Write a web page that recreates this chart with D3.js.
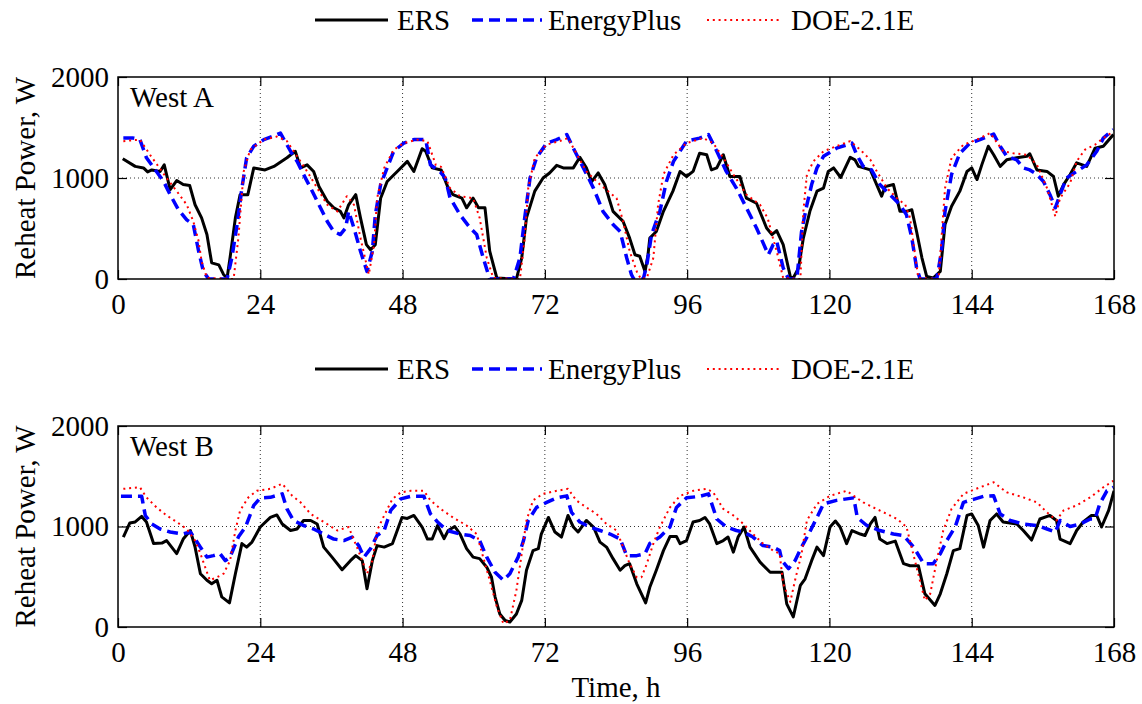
<!DOCTYPE html>
<html>
<head>
<meta charset="utf-8">
<script src="https://cdn.jsdelivr.net/npm/d3@7"></script>
<style>
html,body{margin:0;padding:0;background:#fff;}
svg{display:block;}
</style>
</head>
<body>
<svg id="chart" width="1142" height="704"></svg>
<script>
// ---------- data ----------
const seriesNames = ["ERS", "EnergyPlus", "DOE-2.1E"];
const panelNames = ["West A", "West B"];
const xTicks = [0, 24, 48, 72, 96, 120, 144, 168];
const yTicks = [0, 1000, 2000];

// [hour, reheat power W]
const westA_ERS = [[0.8,1190],[2.9,1115],[4.3,1100],[5,1060],[5.7,1080],[7.1,1065],[7.8,1130],[8.8,885],[9.9,975],[11,935],[12.1,925],[13,735],[14.1,605],[15,440],[15.8,160],[17,140],[17.8,45],[18.4,10],[18.9,210],[19.8,605],[20.6,835],[21.9,835],[22.9,1100],[24.8,1080],[26.3,1115],[28.5,1200],[29.9,1265],[30.8,1100],[31.9,1130],[33,1065],[33.9,915],[35.3,770],[36.4,705],[37.5,670],[38.1,605],[38.9,735],[40.1,835],[40.9,605],[41.9,340],[42.6,290],[43.4,340],[44.3,800],[45.4,965],[47.1,1065],[48.8,1165],[49.9,1065],[51.3,1290],[51.9,1265],[53,1100],[54.5,1080],[55.6,915],[56.5,835],[58,800],[58.8,705],[59.9,800],[60.8,705],[61.9,705],[62.7,275],[63.9,10],[67.2,0],[68.1,210],[68.9,605],[70.3,870],[71.7,1000],[72.8,1050],[74,1125],[75.1,1100],[76.8,1100],[77.9,1205],[79,1100],[79.9,965],[81,1050],[82.1,935],[83.5,670],[85.2,570],[86.3,405],[87.2,240],[88,225],[88.9,75],[89.4,240],[89.7,405],[90.8,470],[92,670],[93.6,870],[94.8,1065],[95.9,1015],[97,1065],[98.1,1245],[99.3,1230],[100.1,1080],[101,1100],[102.1,1230],[103.2,1015],[104.9,1015],[106,800],[107.7,750],[109.4,505],[110.3,440],[111.1,480],[112.2,340],[113.4,25],[113.9,10],[114.8,110],[115.6,405],[116.7,670],[117.9,870],[119,900],[119.8,1065],[120.7,1100],[121.9,1005],[123.5,1205],[124.3,1180],[124.9,1115],[126.9,1080],[128.8,820],[129.4,915],[130.8,935],[131.9,670],[133,670],[133.9,685],[134.7,470],[135.6,210],[136.4,25],[137.5,10],[138.7,75],[139.5,540],[140.6,720],[142,870],[143.2,1065],[144,1100],[144.9,985],[145.7,1130],[146.8,1315],[147.7,1230],[148.8,1115],[149.9,1180],[151.6,1200],[153.3,1215],[153.8,1240],[155,1080],[156.7,1065],[157.8,1015],[158.6,820],[159.5,935],[160.6,1035],[161.7,1150],[163.4,1115],[164.8,1295],[166.2,1315],[167.9,1430]];
const westA_EnergyPlus = [[0.9,1395],[2.6,1395],[3.7,1380],[4.8,1200],[6.3,1080],[7.7,965],[8.8,835],[10.2,685],[11.6,585],[12.7,540],[13.6,275],[14.4,75],[15.3,0],[18.4,0],[19.2,210],[20.1,540],[20.9,900],[21.7,1200],[22.9,1315],[24.6,1380],[26.8,1430],[27.4,1445],[29.1,1265],[30.2,1165],[31.3,1035],[32.5,900],[33.9,735],[35.3,570],[36.4,470],[37.5,440],[38.4,505],[38.9,670],[39.8,505],[40.9,275],[42,75],[42.9,275],[43.4,635],[44.3,935],[45.4,1100],[46.5,1265],[48.2,1345],[49.9,1380],[51.9,1380],[52.7,1130],[54.3,1065],[55.2,1000],[56,805],[57.7,635],[59.4,505],[60.5,440],[61.6,210],[62.7,0],[66.7,0],[67.8,210],[68.6,605],[69.5,1000],[70.6,1200],[72.3,1345],[74,1380],[75.7,1430],[76.8,1295],[78.5,1100],[80.2,900],[81.8,670],[83.5,540],[84.7,470],[85.8,210],[86.6,45],[87,0],[88.6,0],[89.2,140],[90,440],[91.4,670],[92.5,965],[93.7,1165],[95.9,1365],[98.1,1395],[99.6,1430],[101,1265],[102.6,1065],[104.3,900],[106,705],[107.7,505],[109.7,240],[110.5,340],[111.1,375],[112.2,110],[113.1,0],[114.5,0],[115.3,470],[116.2,735],[117,935],[117.9,1100],[119,1215],[121.2,1295],[123.8,1345],[124.6,1230],[125.7,1115],[127.1,1080],[128.5,935],[130.2,835],[131.9,735],[133,635],[133.9,405],[134.7,110],[135.3,0],[138.1,0],[138.9,275],[139.5,670],[140.6,1035],[142,1245],[143.7,1345],[145.4,1380],[147.7,1435],[148.8,1315],[149.9,1215],[151.6,1180],[152.7,1100],[153.8,1080],[155,1035],[156.1,965],[157.2,835],[158.1,705],[158.9,835],[160,1000],[161.7,1065],[163.4,1130],[165.1,1265],[166.2,1395],[167.9,1480]];
const westA_DOE = [[0.9,1365],[3.7,1380],[5.4,1230],[6.8,1115],[8.2,1000],[9.9,870],[11.6,735],[12.7,570],[13.6,375],[14.1,175],[15,10],[19.5,0],[20.3,405],[21.2,1065],[22.3,1280],[24.6,1380],[26.8,1410],[28.5,1365],[30.2,1215],[31.9,1065],[33.6,900],[35.3,735],[37,670],[38.6,820],[39.8,735],[40.9,405],[42.3,45],[43.2,340],[43.7,800],[44.9,1100],[46.5,1280],[48.2,1345],[50.5,1380],[52.2,1365],[53.6,1130],[54.5,1110],[56,900],[57.7,820],[59.9,800],[61,605],[62.2,210],[63.3,10],[67.8,0],[68.6,405],[69.2,900],[70.3,1200],[72.3,1330],[74.5,1365],[75.9,1395],[77.3,1245],[79,1065],[81.3,935],[84.1,800],[85.2,570],[86.3,275],[87.5,75],[88.2,0],[89.2,10],[90.3,210],[91.1,735],[92,1035],[93.7,1230],[95.9,1345],[98.7,1395],[100.4,1345],[102.1,1200],[103.8,1035],[106,835],[108.3,735],[109.6,600],[110.4,420],[111.1,275],[112.2,10],[115.1,0],[115.6,670],[116.2,1035],[117.3,1165],[119,1265],[121.2,1315],[123.5,1365],[125.2,1280],[126.9,1180],[128,1065],[129.7,900],[131.4,800],[132.8,735],[133.6,605],[134.5,210],[135,10],[138.4,0],[138.9,405],[139.5,900],[140.6,1200],[142.6,1330],[144.9,1380],[147.1,1445],[149.3,1265],[151,1245],[153.3,1230],[155,1130],[156.7,900],[158.1,620],[158.9,800],[160.6,950],[161.7,1165],[163.1,1280],[164.8,1330],[166.2,1395],[167.9,1460]];

const westB_ERS = [[0.9,895],[2,1035],[2.9,1045],[4,1100],[4.8,1045],[6,830],[7.4,835],[8.2,860],[9.9,730],[11,875],[12.2,960],[13,795],[13.9,530],[15,465],[15.8,430],[16.7,465],[17.5,300],[18.8,240],[19.8,530],[20.9,830],[21.7,795],[22.6,845],[24,995],[25.7,1090],[26.8,1115],[27.7,1025],[29.1,960],[30.2,975],[31.3,1060],[32.5,1060],[33.6,1025],[34.7,795],[36.1,695],[37.8,570],[39.2,660],[40.1,710],[41.2,660],[42,380],[42.9,660],[43.7,810],[44.9,795],[46.3,830],[47.1,960],[47.9,1090],[48.8,1080],[49.9,1110],[51.3,995],[52.2,875],[53,875],[53.9,1010],[55,880],[55.7,960],[56.8,1000],[57.7,925],[58.8,780],[59.9,695],[61,680],[62.2,595],[63,495],[63.6,300],[64.4,130],[65.3,65],[66.1,50],[67.2,130],[68.1,265],[68.9,565],[70,760],[70.9,780],[71.4,925],[72.6,1090],[73.7,945],[74.8,895],[75.9,1110],[76.8,995],[77.6,945],[79,1060],[80.2,995],[81.3,845],[82.4,795],[83.5,680],[84.7,565],[85.5,610],[86.3,630],[87.5,430],[89,240],[89.7,395],[90.8,565],[92,760],[93.1,900],[94.2,900],[94.8,830],[95.9,860],[97,1045],[98.1,1060],[99,1090],[99.8,1025],[101,830],[102.1,860],[102.9,895],[103.8,745],[104.6,895],[105.6,995],[106.6,795],[108.3,645],[110,545],[112,545],[112.8,230],[113.9,100],[115.1,415],[115.9,480],[117,660],[117.9,795],[119,710],[120.1,995],[121,1055],[121.8,995],[122.9,830],[123.8,960],[125.2,925],[126,910],[126.9,1025],[127.7,1090],[128.5,875],[129.7,830],[131.1,855],[132.5,630],[133.6,610],[135,610],[136.1,330],[137.8,215],[138.7,330],[139.8,530],[140.9,760],[142,780],[143.2,1110],[144,1125],[145.1,1010],[146,795],[147.1,1060],[148.2,1125],[149.3,1045],[151.6,1025],[152.7,960],[154.1,865],[155.5,1075],[157.2,1110],[158.3,1060],[158.9,875],[160.6,830],[161.7,960],[162.8,1045],[164.2,1110],[165.1,1110],[165.9,995],[167.1,1160],[168,1355]];
const westB_EnergyPlus = [[0.5,1300],[4,1300],[4.6,1110],[5.7,1025],[7.1,975],[8.8,945],[10.8,925],[12.2,945],[13,875],[13.9,795],[15,695],[16.1,710],[17.2,730],[18.1,660],[18.9,695],[20.3,895],[21.5,995],[22.9,1210],[24,1285],[25.7,1290],[27.7,1325],[28.5,1175],[29.6,1060],[31.3,1010],[33,975],[34.7,925],[36.4,875],[38.1,860],[39.5,895],[40.6,810],[41.5,695],[42.6,780],[43.7,910],[44.9,960],[46,1160],[47.7,1275],[49.4,1300],[51.6,1300],[52.7,1125],[53.9,1045],[55.5,960],[57.7,925],[59.4,910],[61,860],[62.2,695],[63.6,545],[65,465],[66.1,530],[67.5,695],[68.4,860],[69.2,1060],[70.6,1190],[72.3,1240],[74,1285],[75.7,1305],[76.5,1140],[77.9,1045],[79.6,995],[81.3,960],[83,925],[84.7,875],[85.8,710],[87.5,710],[88.9,730],[89.7,830],[91.4,895],[93.1,995],[94.2,1190],[95.9,1285],[98.1,1300],[99.6,1325],[101,1075],[102.6,995],[104.3,960],[105.5,945],[107.1,895],[108.8,810],[110.5,795],[111.6,760],[112,660],[113.1,580],[114.2,660],[115.3,795],[116.5,925],[117.9,1090],[119,1225],[121.2,1260],[124.1,1285],[124.7,1090],[126.3,1010],[128.5,960],[130.8,925],[132.5,910],[134.2,795],[135.9,630],[137.5,630],[138.7,730],[139.8,860],[141.2,995],[142.6,1240],[144.3,1270],[146,1300],[147.7,1305],[148.8,1125],[150.5,1060],[152.7,1025],[155,1010],[156.7,975],[158.1,945],[158.9,1060],[160.6,1000],[162.3,1025],[164,1075],[164.8,1075],[165.6,1225],[166.8,1355],[167.9,1390]];
const westB_DOE = [[0.9,1375],[3.7,1390],[4.8,1290],[6.5,1190],[8.2,1110],[9.9,1045],[11.6,975],[13,860],[13.9,730],[14.7,595],[15.5,465],[16.7,495],[17.8,530],[18.9,660],[19.8,960],[20.6,1160],[22,1290],[23.4,1355],[25.7,1375],[27.7,1425],[29.4,1305],[30.8,1240],[32.5,1125],[34.7,1045],[37,960],[38.9,995],[40.3,795],[41.2,660],[42,530],[42.9,660],[43.7,960],[44.9,1110],[46.3,1275],[47.7,1340],[49.4,1355],[51.6,1355],[52.7,1260],[54.4,1175],[56.5,1090],[58.8,1010],[60.5,925],[61.6,695],[62.7,465],[63.9,200],[65,35],[66.1,65],[67.2,365],[68.1,730],[68.9,1060],[70,1260],[71.7,1325],[74,1355],[75.9,1375],[77.3,1260],[79,1190],[80.7,1125],[82.4,1025],[84.1,960],[85.2,795],[86.3,630],[87.5,495],[88.3,495],[89.2,630],[90.3,830],[91.4,995],[93.1,1190],[94.8,1305],[97,1355],[99.3,1375],[100.4,1340],[102.1,1175],[103.8,1110],[105.5,1025],[107.1,925],[108.8,830],[110.5,760],[111.6,730],[112.2,430],[113.4,250],[114.2,465],[115.3,730],[116.2,1060],[117.9,1225],[120.1,1305],[122.9,1355],[124.1,1305],[125.7,1240],[127.4,1190],[129.7,1125],[131.4,1075],[133,995],[134.7,595],[136.1,265],[137,330],[138.1,660],[139.2,960],[140.6,1175],[142.6,1325],[145.4,1390],[147.7,1440],[149.9,1340],[152.7,1290],[155,1240],[156.7,1140],[158.3,1060],[159.5,1160],[161.7,1210],[164,1290],[166.2,1390],[167.9,1455]];

// ---------- layout ----------
const FONT = '"Liberation Serif"';
const svg = d3.select("#chart");
svg.append("rect").attr("width",1142).attr("height",704).attr("fill","#fff");
const FS = 29;
const L = 118, R = 1114;
const panels = [
  {name: panelNames[0], top: 77, bottom: 279, data: [westA_ERS, westA_EnergyPlus, westA_DOE]},
  {name: panelNames[1], top: 426, bottom: 627, data: [westB_ERS, westB_EnergyPlus, westB_DOE]}
];
const styles = [
  {stroke:"#000000", width:3, dash:null},
  {stroke:"#0000ff", width:3.5, dash:"11,6"},
  {stroke:"#ff0000", width:2, dash:"2,3.8"}
];
const legendPos = [
  {x1:315, x2:388, tx:397},
  {x1:472, x2:542, tx:548},
  {x1:707, x2:782, tx:791}
];

const x = d3.scaleLinear().domain([0,168]).range([L,R]);
const fmt = d3.format("d");

panels.forEach((p, pi) => {
  const y = d3.scaleLinear().domain([0,2000]).range([p.bottom,p.top]);
  const g = svg.append("g");

  // grid
  g.append("g").selectAll("line").data(xTicks.slice(1,-1)).join("line")
    .attr("x1",d=>x(d)).attr("x2",d=>x(d)).attr("y1",p.top).attr("y2",p.bottom)
    .attr("stroke","#333").attr("stroke-width",1).attr("stroke-dasharray","1,3");
  g.append("g").selectAll("line").data(yTicks.slice(1,-1)).join("line")
    .attr("x1",L).attr("x2",R).attr("y1",d=>y(d)).attr("y2",d=>y(d))
    .attr("stroke","#333").attr("stroke-width",1).attr("stroke-dasharray","1,3");

  // clip
  const cid = "clip"+pi;
  svg.append("clipPath").attr("id",cid).append("rect")
    .attr("x",L).attr("y",p.top-2).attr("width",R-L).attr("height",p.bottom-p.top+2);

  const line = d3.line().x(d=>x(d[0])).y(d=>y(d[1]));
  p.data.forEach((s, si) => {
    const st = styles[si];
    g.append("path").datum(s).attr("d",line).attr("fill","none")
      .attr("clip-path",`url(#${cid})`)
      .attr("stroke",st.stroke).attr("stroke-width",st.width)
      .attr("stroke-linejoin","round")
      .attr("stroke-dasharray",st.dash);
  });

  // axes
  const ax = g.append("g").attr("transform",`translate(0,${p.bottom})`)
    .call(d3.axisBottom(x).tickValues(xTicks).tickFormat(fmt).tickSizeInner(-9).tickSizeOuter(0).tickPadding(14));
  const ay = g.append("g").attr("transform",`translate(${L},0)`)
    .call(d3.axisLeft(y).tickValues(yTicks).tickFormat(fmt).tickSizeInner(-9).tickSizeOuter(0).tickPadding(9));
  const axT = g.append("g").attr("transform",`translate(0,${p.top})`)
    .call(d3.axisTop(x).tickValues(xTicks).tickSizeInner(-9).tickSizeOuter(0).tickFormat(""));
  const ayR = g.append("g").attr("transform",`translate(${R},0)`)
    .call(d3.axisRight(y).tickValues(yTicks).tickSizeInner(-9).tickSizeOuter(0).tickFormat(""));
  [ax,ay,axT,ayR].forEach(a => {
    a.attr("font-family",FONT).attr("font-size",FS);
    a.select(".domain").remove();
    a.selectAll(".tick line").attr("stroke","#000").attr("stroke-width",1.2);
    a.selectAll("text").attr("font-size",FS).attr("font-family",FONT).attr("fill","#000");
  });

  // box
  g.append("rect").attr("x",L).attr("y",p.top).attr("width",R-L).attr("height",p.bottom-p.top)
    .attr("fill","none").attr("stroke","#000").attr("stroke-width",1.5);

  // panel label
  g.append("text").attr("x",130).attr("y",p.top+30).attr("font-size",FS).attr("font-family",FONT).text(p.name);

  // y label
  g.append("text").attr("transform",`translate(35,${(p.top+p.bottom)/2}) rotate(-90)`)
    .attr("text-anchor","middle").attr("font-size",FS).attr("font-family",FONT).text("Reheat Power, W");

  // legend
  const ly = p.top - 57;
  const lg = g.append("g");
  seriesNames.forEach((n, si) => {
    const st = styles[si], lp = legendPos[si];
    lg.append("line").attr("x1",lp.x1).attr("x2",lp.x2).attr("y1",ly).attr("y2",ly)
      .attr("stroke",st.stroke).attr("stroke-width",st.width).attr("stroke-dasharray",st.dash);
    lg.append("text").attr("x",lp.tx).attr("y",ly+10).attr("font-size",FS).attr("font-family",FONT).text(n);
  });
});

// x label
svg.append("text").attr("x",(L+R)/2).attr("y",697).attr("text-anchor","middle")
  .attr("font-size",FS).attr("font-family",FONT).text("Time, h");
</script>
</body>
</html>
